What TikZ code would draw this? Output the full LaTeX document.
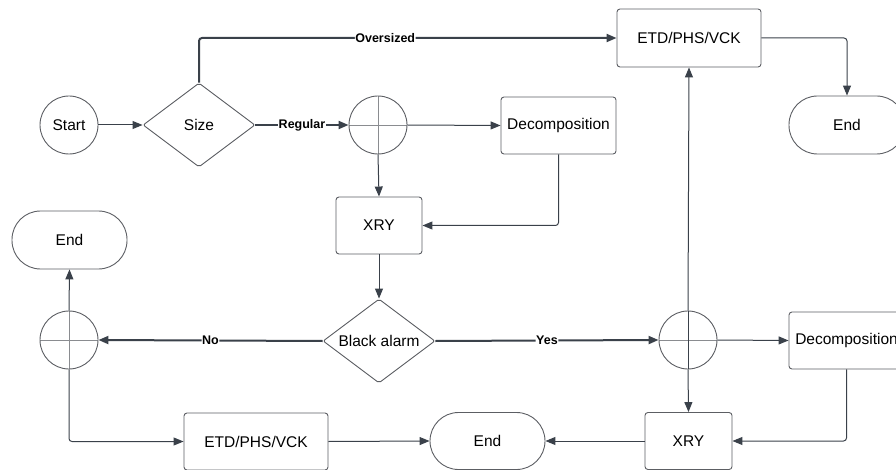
\documentclass[tikz,border=0pt]{standalone}
\usepackage{fontspec}
\setmainfont{Liberation Sans}
\usetikzlibrary{arrows.meta,shapes.geometric,calc}
\definecolor{conn}{HTML}{3A414A}
\definecolor{shp}{HTML}{5C5E63}
\definecolor{crossc}{HTML}{8A8C90}
\tikzset{
  base/.style={draw=shp,line width=0.9pt,font=\fontsize{15.5}{18}\selectfont,text=black,inner sep=0pt},
  boxn/.style={base,rectangle,rounded corners=3pt,minimum height=57pt},
  termn/.style={base,rectangle,rounded corners=28.5pt,minimum width=116pt,minimum height=58pt},
  startn/.style={base,circle,minimum size=58pt},
  decn/.style={base,diamond,aspect=1.333,minimum width=112pt,minimum height=84pt,rounded corners=2pt},
  sumn/.style={base,circle,minimum size=58pt,
    path picture={\draw[crossc,line width=0.9pt] (path picture bounding box.west)--(path picture bounding box.east)
      (path picture bounding box.north)--(path picture bounding box.south);}},
  arr/.style={draw=conn,line width=1pt,rounded corners=3pt,-{Triangle[length=10pt,width=8pt]}},
  line/.style={draw=conn,line width=1pt,rounded corners=3pt},
  thick arr/.style={arr,line width=2pt},
  lbl/.style={fill=white,inner sep=0.6pt,font=\bfseries\fontsize{12.5}{14}\selectfont,text=black},
}
\begin{document}
\begin{tikzpicture}[x=1pt,y=-1pt]
\useasboundingbox (0,0) rectangle (896,470);
% nodes
\node[startn] (start) at (69,125) {Start};
\node[decn] (size) at (199,125) {Size};
\node[sumn] (c1) at (378,125) {};
\node[boxn,minimum width=115pt] (dec1) at (558.5,125.5) {Decomposition};
\node[boxn,minimum width=86pt] (xry1) at (379,225.5) {XRY};
\node[boxn,minimum width=144pt,minimum height=58pt] (etd1) at (689,38) {ETD/PHS/VCK};
\node[termn] (end1) at (847,125) {End};
\node[termn,minimum width=115pt] (end2) at (69.5,240) {End};
\node[decn] (alarm) at (379,341) {Black alarm};
\node[sumn] (c3) at (69,340) {};
\node[sumn] (c2) at (688,340) {};
\node[boxn,minimum width=115pt] (dec2) at (846.5,340.5) {Decomposition};
\node[boxn,minimum width=87pt] (xry2) at (688.5,441) {XRY};
\node[termn,minimum width=115pt,minimum height=57pt] (end3) at (487.5,441) {End};
\node[boxn,minimum width=144pt] (etd2) at (256,441.5) {ETD/PHS/VCK};
% connectors
\draw[arr] (start) -- (size);
\draw[thick arr] (size.north) |- (etd1.west) node[lbl,pos=0.723] {Oversized};
\draw[thick arr] (size.east) -- (c1.west) node[lbl,midway] {Regular};
\draw[arr] (c1.east) -- (dec1.west);
\draw[arr] (c1.south) -- (xry1.north);
\draw[arr] (dec1.south) |- (xry1.east);
\draw[arr] (etd1.east) -| (end1.north);
\draw[arr] (xry1.south) -- (alarm.north);
\draw[thick arr] (alarm.west) -- (c3.east) node[lbl,pos=0.5] {No};
\draw[thick arr] (alarm.east) -- (c2.west) node[lbl,pos=0.5] {Yes};
\draw[arr] (c2.north) -- (etd1.south);
\draw[line] (c2.north) -- (c2.south);
\draw[arr] (c2.south) -- (xry2.north);
\draw[arr] (c2.east) -- (dec2.west);
\draw[arr] (dec2.south) |- (xry2.east);
\draw[arr] (xry2.west) -- (end3.east);
\draw[arr] (c3.north) -- (end2.south);
\draw[arr] (c3.south) |- (etd2.west);
\draw[arr] (etd2.east) -- (end3.west);
\end{tikzpicture}
\end{document}
